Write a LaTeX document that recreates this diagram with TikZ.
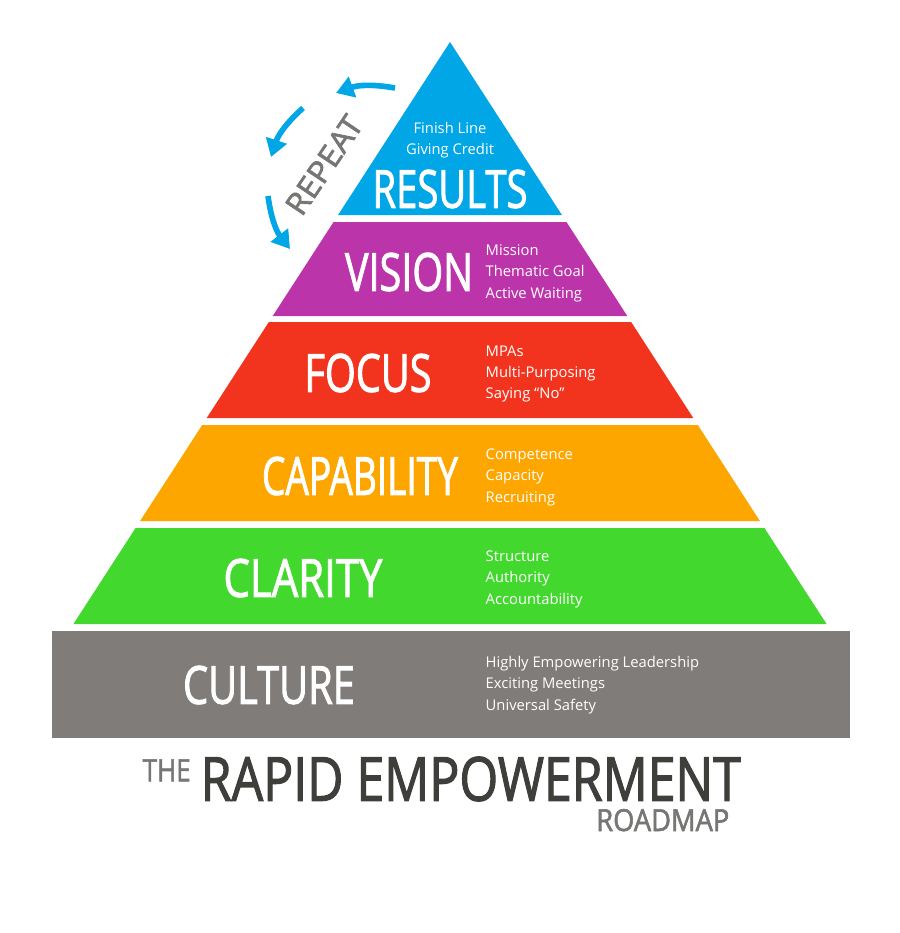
\documentclass[tikz,border=0pt]{standalone}
\usepackage{fontspec}
\setmainfont{Open Sans}
\newfontfamily\labelfont[BoldFont={Open Sans},BoldFeatures={FakeBold=2}]{Open Sans}
\usetikzlibrary{arrows.meta}
\definecolor{resultsblue}{RGB}{0,166,230}
\definecolor{visionpurple}{RGB}{188,52,170}
\definecolor{focusred}{RGB}{242,52,30}
\definecolor{capaorange}{RGB}{254,166,0}
\definecolor{claritygreen}{RGB}{66,216,46}
\definecolor{culturegray}{RGB}{128,124,122}
\definecolor{titledark}{RGB}{62,62,58}
\definecolor{titlegray}{RGB}{118,118,116}
\newcommand{\band}[3]{\fill[#3] ({450-0.647*(#1-42)},#1) -- ({450+0.647*(#1-42)},#1)
  -- ({450+0.647*(#2-42)},#2) -- ({450-0.647*(#2-42)},#2) -- cycle;}
% word squeezed to a width and cap height given in px (0.01cm)
\newcommand{\fitword}[3]{\resizebox{#1\dimexpr0.01cm\relax}{#2\dimexpr0.01cm\relax}{\labelfont\bfseries #3}}
\begin{document}
\begin{tikzpicture}[x=0.01cm, y=-0.01cm,
    title/.style={text=white, inner sep=0pt},
    items/.style={text=white, font=\fontsize{4.2}{6.1}\selectfont, align=left, inner sep=0pt, anchor=west},
    repeatarrow/.style={-{Triangle[length=5pt,width=6pt]}, resultsblue, line width=1.6pt},
  ]
  \useasboundingbox (0,0) rectangle (900,933);
  \fill[white] (0,0) rectangle (900,933);

  % pyramid
  \fill[resultsblue] (450,42) -- ({450+0.647*173},215) -- ({450-0.647*173},215) -- cycle;
  \band{222}{316}{visionpurple}
  \band{322}{418}{focusred}
  \band{425}{521}{capaorange}
  \band{528}{624}{claritygreen}
  \fill[culturegray] (52,631) rectangle (850,738);

  % labels
  \node[title] (results) at (450,189) {\fitword{155}{38}{RESULTS}};
  \node[items, anchor=center, align=center] (resultsitems) at (450,140) {Finish Line\\Giving Credit};
  \node[title] (vision) at (409,272) {\fitword{128}{38}{VISION}};
  \node[items] (visionitems) at (485,273) {Mission\\Thematic Goal\\Active Waiting};
  \node[title] (focus) at (368,373) {\fitword{127}{38}{FOCUS}};
  \node[items] (focusitems) at (485,374) {MPAs\\Multi-Purposing\\Saying “No”};
  \node[title] (capability) at (360,476) {\fitword{196}{38}{CAPABILITY}};
  \node[items] (capaitems) at (485,477) {Competence\\Capacity\\Recruiting};
  \node[title] (clarity) at (303,578) {\fitword{159}{38}{CLARITY}};
  \node[items] (clarityitems) at (485,579) {Structure\\Authority\\Accountability};
  \node[title] (culture) at (269,685) {\fitword{172}{38}{CULTURE}};
  \node[items] (cultureitems) at (485,685) {Highly Empowering Leadership\\Exciting Meetings\\Universal Safety};

  % repeat cycle
  \node[text=titlegray, rotate=56, inner sep=0pt] (repeat) at (324,165) {\fitword{112}{22}{REPEAT}};
  \draw[repeatarrow] (395,88) to[bend right=15] (336,93);
  \draw[repeatarrow] (303,108) to[bend right=15] (271,157);
  \draw[repeatarrow] (268,196) to[bend right=15] (290,249);

  % roadmap title
  \node[text=titlegray, anchor=south west, inner sep=0pt] (the) at (142,782) {\fitword{48}{22}{THE}};
  \node[text=titledark, anchor=south west, inner sep=0pt] (rapid) at (200,802) {\fitword{540}{44}{RAPID EMPOWERMENT}};
  \node[text=titlegray, anchor=south east, inner sep=0pt] (roadmap) at (730,832) {\fitword{133}{22}{ROADMAP}};
\end{tikzpicture}
\end{document}
